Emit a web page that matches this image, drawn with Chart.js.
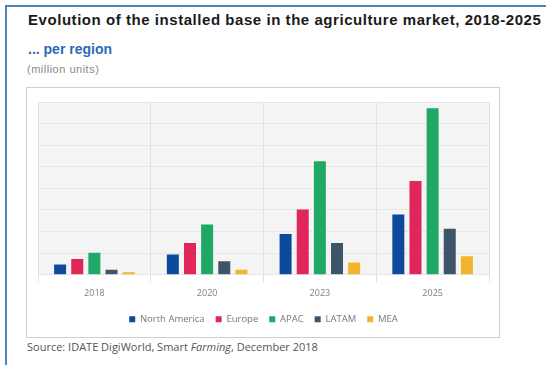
<!DOCTYPE html>
<html lang="en">
<head>
  <meta charset="UTF-8" />
  <title>Installed base in agriculture</title>
  <script src="https://cdn.jsdelivr.net/npm/chart.js"></script>
  <style>
    html, body { margin: 0; padding: 0; background: #fff; }
    body { width: 546px; height: 365px; position: relative; overflow: hidden; font-family: "Liberation Sans", Arial, sans-serif; }
    .frame { position: absolute; left: 5px; top: 5px; right: -4px; bottom: -4px; border-left: 2px solid #4f81bd; border-top: 2px solid #4f81bd; }
    h1 { position: absolute; left: 28px; top: 11px; margin: 0; font-size: 15px; font-weight: bold; color: #1a1a1a; white-space: nowrap; letter-spacing: 0.55px; }
    .sub { position: absolute; left: 28px; top: 41px; font-size: 14px; font-weight: bold; color: #2a6ab8; }
    .unit { position: absolute; left: 27px; top: 63px; font-size: 11px; color: #8a8a8a; letter-spacing: 0.5px; }
    .box { position: absolute; left: 26px; top: 87px; width: 472px; height: 249px; border: 1px solid #cfcfcf; }
    .src { position: absolute; left: 27px; top: 339px; font-size: 11px; color: #555; font-family: "Open Sans", sans-serif; }
  </style>
</head>
<body>
  <div class="frame"></div>
  <h1>Evolution of the installed base in the agriculture market, 2018-2025</h1>
  <div class="sub">... per region</div>
  <div class="unit">(million units)</div>
  <div class="box"><canvas id="chart" width="472" height="249"></canvas></div>
  <div class="src">Source: IDATE DigiWorld, Smart <i>Farming</i>, December 2018</div>

  <script>
    const years = ['2018', '2020', '2023', '2025'];
    const regions = ['North America', 'Europe', 'APAC', 'LATAM', 'MEA'];
    const colors = ['#0b4a9c', '#e1265b', '#1fa866', '#3e5569', '#f2b42c'];

    // values (scale estimated, no axis printed)
    const northAmerica = [4.7, 9.3, 18.9, 27.9];
    const europe = [7.3, 14.7, 30.2, 43.4];
    const apac = [10.2, 23.3, 52.6, 77.1];
    const latam = [2.3, 6.2, 14.7, 21.3];
    const mea = [1.1, 2.3, 5.7, 8.5];
    const series = [northAmerica, europe, apac, latam, mea];

    const plotBg = {
      id: 'plotBg',
      beforeDraw(chart) {
        const a = chart.chartArea, c = chart.ctx;
        c.save();
        c.fillStyle = '#f4f4f4';
        c.fillRect(a.left, a.top, a.right - a.left, a.bottom - a.top);
        c.restore();
      }
    };

    const ctx = document.getElementById('chart');
    const myChart = new Chart(ctx, {
      type: 'bar',
      data: {
        labels: years,
        datasets: regions.map((r, i) => ({
          label: r,
          data: series[i],
          backgroundColor: colors[i],
          categoryPercentage: 0.76,
          barPercentage: 0.7
        }))
      },
      options: {
        responsive: false,
        animation: false,
        layout: { padding: { left: 11, right: 10, top: 14, bottom: 3 } },
        plugins: {
          legend: {
            position: 'bottom',
            labels: {
              boxWidth: 6, boxHeight: 6, padding: 11,
              color: '#777',
              font: { size: 9.5, family: 'Open Sans' }
            }
          },
          tooltip: { enabled: false }
        },
        scales: {
          x: {
            grid: { color: '#e2e2e2', offset: true },
            border: { display: false },
            ticks: { color: '#808080', font: { size: 9, family: 'Open Sans' }, padding: 5 }
          },
          y: {
            min: 0, max: 80,
            ticks: { display: false, stepSize: 10 },
            grid: { color: '#e6e6e6', drawTicks: false },
            border: { display: false }
          }
        }
      },
      plugins: [plotBg]
    });
  </script>
</body>
</html>
